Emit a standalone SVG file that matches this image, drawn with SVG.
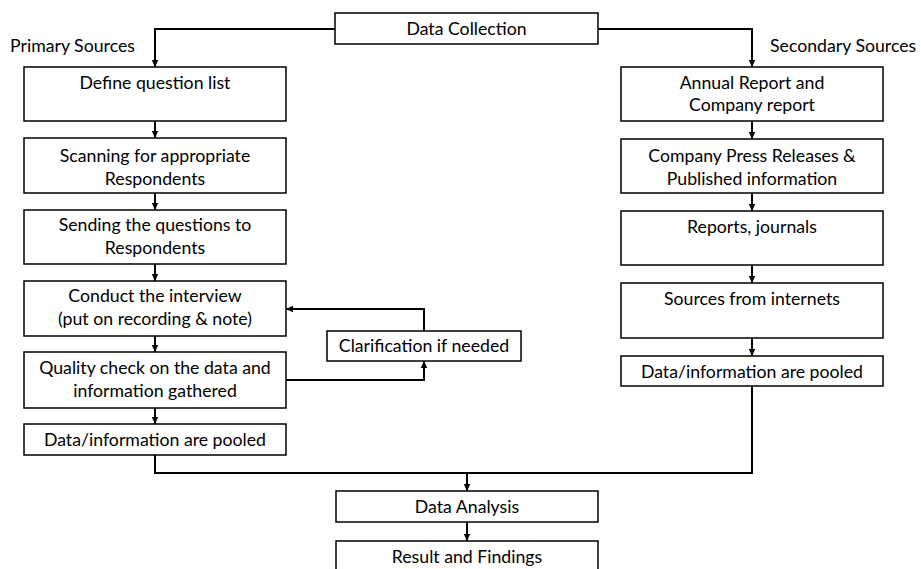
<svg xmlns="http://www.w3.org/2000/svg" width="921" height="569" viewBox="0 0 921 569">
  <style>
    .box { fill: #ffffff; stroke: #000000; stroke-width: 1.5; }
    .t { font-family: Lato, "Open Sans", "Liberation Sans", sans-serif; font-size: 17.7px; fill: #000000; text-anchor: middle; }
    .lbl { font-family: Lato, "Open Sans", "Liberation Sans", sans-serif; font-size: 17.7px; fill: #000000; }
    .wire { fill: none; stroke: #000000; stroke-width: 2; }
  </style>
  <defs>
    <marker id="arrow" markerUnits="userSpaceOnUse" markerWidth="8" markerHeight="8" refX="7" refY="4" orient="auto">
      <path d="M0,0.8 L7,4 L0,7.2 Z" fill="#000000"/>
    </marker>
  </defs>
  <rect width="921" height="569" fill="#ffffff"/>

  <!-- connectors -->
  <g id="connectors">
    <path class="wire" d="M335,29 H155 V67" marker-end="url(#arrow)"/>
    <path class="wire" d="M598,29 H752 V67" marker-end="url(#arrow)"/>
    <path class="wire" d="M155,121 V138" marker-end="url(#arrow)"/>
    <path class="wire" d="M155,193 V210" marker-end="url(#arrow)"/>
    <path class="wire" d="M155,264 V281" marker-end="url(#arrow)"/>
    <path class="wire" d="M155,336 V352" marker-end="url(#arrow)"/>
    <path class="wire" d="M155,408 V424" marker-end="url(#arrow)"/>
    <path class="wire" d="M752,121 V139" marker-end="url(#arrow)"/>
    <path class="wire" d="M752,193 V211" marker-end="url(#arrow)"/>
    <path class="wire" d="M752,265 V283" marker-end="url(#arrow)"/>
    <path class="wire" d="M752,338 V356" marker-end="url(#arrow)"/>
    <path class="wire" d="M424,331 V309 H286" marker-end="url(#arrow)"/>
    <path class="wire" d="M286,380 H424 V361" marker-end="url(#arrow)"/>
    <path class="wire" d="M155,455 V473 H752 V386"/>
    <path class="wire" d="M467,473 V491" marker-end="url(#arrow)"/>
    <path class="wire" d="M467,522 V541" marker-end="url(#arrow)"/>
  </g>

  <!-- branch labels -->
  <text class="lbl" x="10" y="52">Primary Sources</text>
  <text class="lbl" x="770" y="52">Secondary Sources</text>

  <g id="data-collection">
    <rect class="box" x="335" y="13" width="263" height="31"/>
    <text class="t" x="466.5" y="35">Data Collection</text>
  </g>

  <!-- primary sources column -->
  <g id="define-questions">
    <rect class="box" x="24" y="67" width="262" height="54"/>
    <text class="t" x="155" y="89">Define question list</text>
  </g>
  <g id="scan-respondents">
    <rect class="box" x="24" y="138" width="262" height="55"/>
    <text class="t" x="155" y="162">Scanning for appropriate</text>
    <text class="t" x="155" y="185">Respondents</text>
  </g>
  <g id="send-questions">
    <rect class="box" x="24" y="210" width="262" height="54"/>
    <text class="t" x="155" y="231">Sending the questions to</text>
    <text class="t" x="155" y="254">Respondents</text>
  </g>
  <g id="interview">
    <rect class="box" x="24" y="281" width="262" height="55"/>
    <text class="t" x="155" y="302">Conduct the interview</text>
    <text class="t" x="155" y="325">(put on recording &amp; note)</text>
  </g>
  <g id="quality-check">
    <rect class="box" x="24" y="352" width="262" height="56"/>
    <text class="t" x="155" y="374">Quality check on the data and</text>
    <text class="t" x="155" y="397">information gathered</text>
  </g>
  <g id="primary-pooled">
    <rect class="box" x="24" y="424" width="262" height="31"/>
    <text class="t" x="155" y="446">Data/information are pooled</text>
  </g>
  <g id="clarification">
    <rect class="box" x="327" y="331" width="194" height="30"/>
    <text class="t" x="424" y="352">Clarification if needed</text>
  </g>

  <!-- secondary sources column -->
  <g id="annual-report">
    <rect class="box" x="621" y="67" width="262" height="54"/>
    <text class="t" x="752" y="89">Annual Report and</text>
    <text class="t" x="752" y="111">Company report</text>
  </g>
  <g id="press-releases">
    <rect class="box" x="621" y="139" width="262" height="54"/>
    <text class="t" x="752" y="162">Company Press Releases &amp;</text>
    <text class="t" x="752" y="185">Published information</text>
  </g>
  <g id="reports-journals">
    <rect class="box" x="621" y="211" width="262" height="54"/>
    <text class="t" x="752" y="233">Reports, journals</text>
  </g>
  <g id="internet-sources">
    <rect class="box" x="621" y="283" width="262" height="55"/>
    <text class="t" x="752" y="305">Sources from internets</text>
  </g>
  <g id="secondary-pooled">
    <rect class="box" x="621" y="356" width="262" height="30"/>
    <text class="t" x="752" y="378">Data/information are pooled</text>
  </g>

  <!-- analysis -->
  <g id="data-analysis">
    <rect class="box" x="336" y="491" width="262" height="31"/>
    <text class="t" x="467" y="513">Data Analysis</text>
  </g>
  <g id="results">
    <rect class="box" x="336" y="541" width="262" height="40"/>
    <text class="t" x="467" y="563">Result and Findings</text>
  </g>
</svg>
